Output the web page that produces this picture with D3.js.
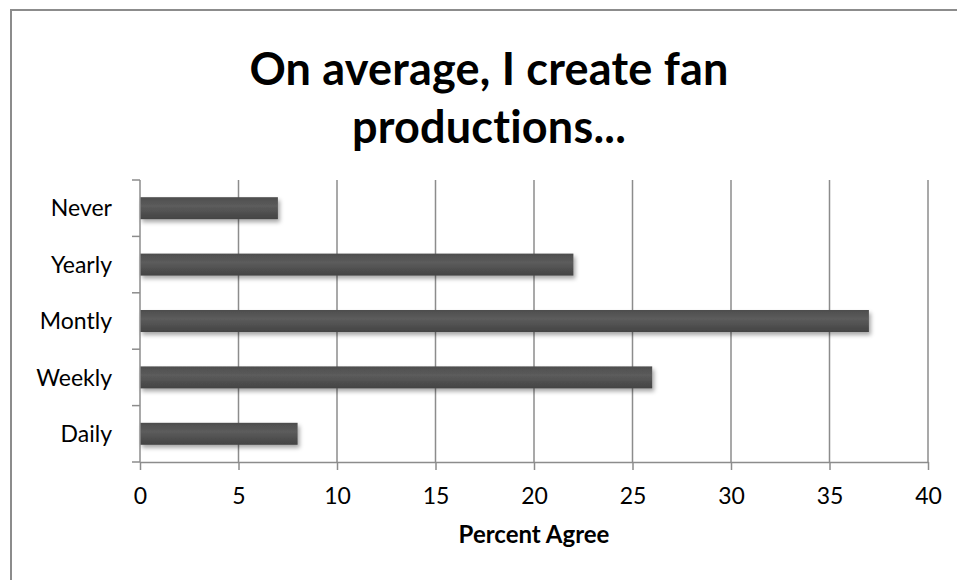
<!DOCTYPE html>
<html>
<head>
<meta charset="utf-8">
<script src="https://cdn.jsdelivr.net/npm/d3@7"></script>
<style>
  body { margin: 0; background: #fff; }
  svg { display: block; }
  text, tspan { font-variant-ligatures: none; font-feature-settings: "liga" 0, "clig" 0, "dlig" 0; }
</style>
</head>
<body>
<div id="chart"></div>
<script>
// data
const categories = ["Never", "Yearly", "Montly", "Weekly", "Daily"];
const percentAgree = [7, 22, 37, 26, 8];
const xTicks = [0, 5, 10, 15, 20, 25, 30, 35, 40];
const titleLines = ["On average, I create fan", "productions..."];
const xTitle = "Percent Agree";

const width = 957;
const height = 580;
const margin = { top: 180, right: 29, bottom: 118, left: 140 };
const font = "Lato, 'Open Sans', sans-serif";

const svg = d3.select("#chart")
    .append("svg")
    .attr("width", width)
    .attr("height", height)
    .attr("font-family", font);

// bar gradient + shadow
const defs = svg.append("defs");
const grad = defs.append("linearGradient")
    .attr("id", "barGrad")
    .attr("x1", 0).attr("y1", 0).attr("x2", 0).attr("y2", 1);
grad.append("stop").attr("offset", "0%").attr("stop-color", "#4d4d4d");
grad.append("stop").attr("offset", "40%").attr("stop-color", "#5c5c5c");
grad.append("stop").attr("offset", "100%").attr("stop-color", "#434343");

const shadow = defs.append("filter")
    .attr("id", "shadow")
    .attr("x", "-5%").attr("y", "-30%")
    .attr("width", "115%").attr("height", "180%");
shadow.append("feDropShadow")
    .attr("dx", 2).attr("dy", 3)
    .attr("stdDeviation", 2)
    .attr("flood-color", "#000")
    .attr("flood-opacity", 0.35);

// outer frame
svg.append("rect")
    .attr("x", 11).attr("y", 10)
    .attr("width", width + 20).attr("height", height + 20)
    .attr("fill", "none")
    .attr("stroke", "#8c8c8c")
    .attr("stroke-width", 2);

const x = d3.scaleLinear()
    .domain([0, 40])
    .range([margin.left, width - margin.right]);

const y = d3.scaleBand()
    .domain(categories)
    .range([margin.top, height - margin.bottom])
    .paddingInner(0.61)
    .paddingOuter(0.305);

// gridlines
svg.append("g")
    .selectAll("line")
    .data(xTicks.slice(1))
    .join("line")
    .attr("x1", d => x(d)).attr("x2", d => x(d))
    .attr("y1", margin.top).attr("y2", height - margin.bottom)
    .attr("stroke", "#8c8c8c")
    .attr("stroke-width", 1.5);

// bars
svg.append("g")
    .selectAll("rect")
    .data(categories)
    .join("rect")
    .attr("x", x(0))
    .attr("y", d => y(d))
    .attr("width", (d, i) => x(percentAgree[i]) - x(0))
    .attr("height", y.bandwidth())
    .attr("fill", "url(#barGrad)")
    .attr("filter", "url(#shadow)");

// x axis
const xAxis = svg.append("g")
    .attr("transform", `translate(0,${height - margin.bottom})`)
    .call(d3.axisBottom(x).tickValues(xTicks).tickSize(8).tickPadding(18).tickSizeOuter(0));
xAxis.select(".domain").attr("stroke", "#8c8c8c").attr("stroke-width", 1.5);
xAxis.selectAll(".tick line").attr("stroke", "#8c8c8c").attr("stroke-width", 1.5);
xAxis.selectAll(".tick text")
    .attr("font-family", font)
    .attr("font-size", 23)
    .attr("fill", "#000");

// y axis (ticks at band boundaries)
const step = y.step();
const bounds = d3.range(categories.length + 1).map(i => margin.top + i * step);
svg.append("line")
    .attr("x1", x(0)).attr("x2", x(0))
    .attr("y1", margin.top).attr("y2", height - margin.bottom)
    .attr("stroke", "#8c8c8c").attr("stroke-width", 1.5);
svg.append("g")
    .selectAll("line")
    .data(bounds)
    .join("line")
    .attr("x1", x(0) - 8).attr("x2", x(0))
    .attr("y1", d => d).attr("y2", d => d)
    .attr("stroke", "#8c8c8c").attr("stroke-width", 1.5);

svg.append("g")
    .selectAll("text")
    .data(categories)
    .join("text")
    .attr("x", 112)
    .attr("y", d => y(d) + y.bandwidth() / 2)
    .attr("dy", "0.36em")
    .attr("text-anchor", "end")
    .attr("font-size", 23)
    .attr("fill", "#000")
    .text(d => d);

// title (tiny letter-spacing keeps the "ti" ligature off)
svg.append("text")
    .attr("text-anchor", "middle")
    .attr("font-size", 45)
    .attr("font-weight", "bold")
    .attr("letter-spacing", "0.2px")
    .attr("fill", "#000")
    .selectAll("tspan")
    .data(titleLines)
    .join("tspan")
    .attr("x", 489)
    .attr("y", (d, i) => 85 + i * 58)
    .text(d => d);

// x axis title
svg.append("text")
    .attr("x", x(20))
    .attr("y", 543)
    .attr("text-anchor", "middle")
    .attr("font-size", 24)
    .attr("font-weight", "bold")
    .attr("fill", "#000")
    .text(xTitle);
</script>
</body>
</html>
